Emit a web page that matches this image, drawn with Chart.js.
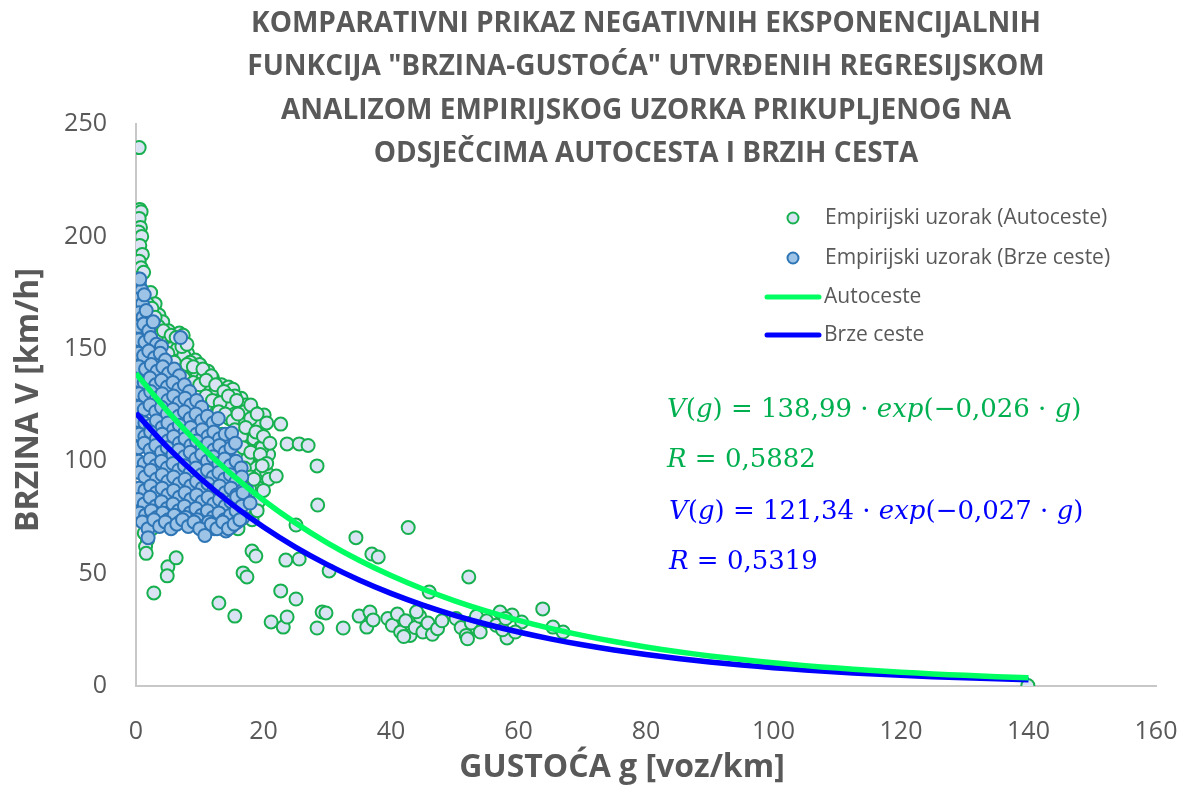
<!DOCTYPE html>
<html>
<head>
<meta charset="utf-8">
<script src="https://cdn.jsdelivr.net/npm/chart.js@4.4.0/dist/chart.umd.min.js"></script>
<style>
  body { margin: 0; background: #fff; }
  canvas { display: block; }
</style>
</head>
<body>
<canvas id="myChart" width="1182" height="787"></canvas>
<script>
// empirijski uzorak - autoceste [gustoca, brzina]
const autocesteSample = [
  [0.5,239.5],[0.6,212],[0.8,211],[0.5,208],[0.7,204],[0.4,202],[0.9,200],[0.6,196],[1.0,192],[0.5,189],
  [0.8,186],[1.2,184],[0.4,181],[0.7,177],[1.0,172],[1.6,172],[0.6,168],[1.3,165],[0.5,160],[1.1,158],
  [0.3,150],[0.8,146],[0.4,138],
  [2.3,175],[3.0,170],[2.0,167],[3.6,165],[4.2,162],[2.8,160],[5.1,158],[6.8,157],[7.4,156],[4.8,154],
  [3.5,152],[6.0,150],[8.1,148],[9.3,145],[7.0,145],[10.0,143],[5.5,142],[8.8,140],[11.3,140],[12.0,137],
  [9.8,136],[13.4,134],[14.5,133],[11.0,132],[15.2,132],[12.7,130],[16.5,128],[14.0,127],[17.2,125],
  [15.6,124],[13.0,123],[18.5,122],[16.8,120],[20.1,120.5],[14.6,119],[17.8,117],[19.2,116],[16.0,115],
  [18.0,112],[19.5,110],[17.0,108],[18.8,105],[16.3,103],[19.9,101],[18.2,98],[17.5,95],[19.0,92],
  [16.7,90],[18.4,86],[17.2,82],[15.8,79],[18.0,77],[16.4,74],[14.8,72],[12.6,71],[10.2,73],[8.0,72],
  [6.2,74],[4.5,73],[3.0,75],[2.5,70],[1.8,65],[1.5,62],[1.6,59],[1.3,68],[2.1,78],
  [13.5,112],[12.2,118],[11.0,125],[14.2,105],[15.0,98],[13.8,90],[12.5,84],[14.9,86],[11.8,77],
  [10.5,128],[9.5,132],[8.5,138],[7.8,142],[6.5,146],[5.8,152],[4.0,157],
  [3.5,160],[4.5,156],[5.5,150],[6.5,150],[7.5,147],[8.5,144],[9.5,140],[10.5,137],[11.5,134],
  [12.5,131],[13.5,128],[14.5,125],[15.5,121],[16.5,117],[17.5,113],[18.5,110],[19.5,106],[17.8,103],
  [18.8,97],[19.6,95],[17.8,90],[19.0,85],[18.6,80],[17.5,76],[19.3,88],[20.5,95],[20.8,103],[19.8,106],
  [1.8,170],[2.5,168],[2.2,163],[3.0,164],[2.5,157],[3.3,156],[4.3,158],[5.5,156],[6.3,155],
  [4.0,150],[5.0,148],[7.2,151],[8.0,152],[6.0,144],[7.0,140],[8.0,143],[9.0,142],[10.5,141],[11.8,138],
  [7.5,137],[9.0,135],[10.0,134],[11.0,136],[12.5,134],[13.8,131],[15.5,129],
  [9.5,126],[11.0,129],[12.0,127],[13.2,126],[14.5,129],[15.8,127],[17.0,122],[18.0,125],
  [13.0,122],[14.0,121],[15.2,118],[16.0,121],[18.0,119],[19.0,121],[20.5,117],
  [15.5,114],[16.5,111],[17.2,115],[18.8,113],[20.0,111],[21.0,108],
  [16.8,106],[17.5,101],[18.0,104],[19.5,103],[20.5,99],[17.0,97],[18.0,93],[19.8,98],[20.8,92],
  [17.8,88],[18.5,92],[19.2,82],[20.0,87],[17.0,79],[18.2,74],[19.0,78],[16.0,70],
  [22.7,116.5],[23.7,107.7],[25.6,107.7],[27.0,107],[28.4,97.9],[22.0,93.4],[28.5,80.5],[25.1,71.6],
  [34.5,66],[42.7,70.5],[37.0,58.7],[38.0,57.4],[18.2,60],[18.8,57.8],[23.5,56],[25.6,56.5],[16.8,50.3],
  [17.4,48.5],[30.3,51.2],[46.0,41.8],[22.7,42.3],[25.1,38.7],[13.0,36.9],[15.5,31.1],[21.2,28.5],
  [23.1,26.2],[23.7,30.7],[28.4,25.8],[29.2,32.9],[29.8,32.5],[32.5,25.8],[35.0,31.1],[36.7,32.9],
  [36.2,26.2],[37.2,29.4],[52.2,48.5],[63.8,34.3],[57.1,32.9],[59.0,31.6],[60.5,28.5],[58.2,21.4],
  [65.4,26.2],[67.0,24.0],[5.0,53],[4.9,49],[6.3,57],[2.8,41.4],[139.9,0.2],
  [39.5,30],[40.2,27],[41.0,32],[41.5,24],[42.3,29],[43.0,22.5],[43.8,26],[44.5,31],[45.0,24],[45.8,28],
  [46.5,23],[47.3,25.5],[48.0,29],[44.0,33],[42.0,22],
  [50.2,30],[51.0,26],[51.8,22.5],[52.6,28],[53.4,31],[54.0,24],[52.0,21],[55.0,29],
  [56.5,27],[57.5,25],[59.5,24],[58.0,30]
];

// empirijski uzorak - brze ceste [gustoca, brzina]
const brzeSample = [
  [0.5,179],[0.9,176],[0.6,181],
  [0.4,172],[1.0,170],[1.3,174],
  [0.5,166],[1.1,164],[1.6,167],
  [0.4,160],[1.2,161],[2.0,158],[2.7,162],
  [0.5,154],[1.4,153],[2.3,155],[3.2,152],[4.0,151],[7.0,155],
  [0.4,148],[1.2,147],[2.0,149],[2.9,146],[3.8,148],[4.6,145],
  [0.5,142],[1.5,141],[2.4,143],[3.3,140],[4.2,142],[5.1,139],[6.0,141],[6.8,138],
  [0.4,136],[1.3,135],[2.2,137],[3.1,134],[4.0,136],[4.9,133],[5.8,135],[6.7,132],[7.6,134],[8.4,131],
  [0.5,130],[1.4,129],[2.3,131],[3.2,128],[4.1,130],[5.0,127],[5.9,129],[6.8,126],[7.7,128],[8.6,125],
  [9.5,127],[10.3,124],
  [0.4,124],[1.3,123],[2.2,125],[3.1,122],[4.0,124],[4.9,121],[5.8,123],[6.7,120],[7.6,122],[8.5,119],
  [9.4,121],[10.3,118],[11.2,120],[12.1,117],[12.9,119],
  [0.5,118],[1.4,117],[2.3,116],[3.2,118],[4.1,115],[5.0,117],[5.9,114],[6.8,116],[7.7,113],[8.6,115],
  [9.5,112],[10.4,114],[11.3,111],[12.2,113],[13.1,110],[14.0,112],[15.0,112.5],
  [0.5,112],[1.4,111],[2.3,113],[3.2,110],[4.1,112],[5.0,109],[5.9,111],[6.8,108],[7.7,110],[8.6,107],
  [9.5,109],[10.4,106],[11.3,108],[12.2,105],[13.1,107],[14.0,104],[14.9,106],[15.6,108],
  [0.4,106],[1.3,108],[2.2,105],[3.1,107],[4.0,104],[4.9,106],[5.8,103],[6.7,105],[7.6,102],[8.5,104],
  [9.4,101],[10.3,103],[11.2,100],[12.1,102],[13.0,99],[13.9,101],[14.8,98],[15.7,100],[16.5,97],
  [0.4,100],[1.3,99],[2.2,101],[3.1,98],[4.0,100],[4.9,97],[5.8,99],[6.7,96],[7.6,98],[8.5,95],
  [9.4,97],[10.3,94],[11.2,96],[12.1,93],[13.0,95],[13.9,92],[14.8,94],[15.7,91],[16.6,93],
  [0.5,95],[1.4,93],[2.3,96],[3.2,92],[4.1,94],[5.0,91],[5.9,93],[6.8,90],[7.7,92],[8.6,89],
  [9.5,91],[10.4,88],[11.3,90],[12.2,87],[13.1,89],[14.0,86],[14.9,88],[15.8,85],[16.7,87],[17.4,87],
  [0.5,88],[1.4,87],[2.3,89],[3.2,86],[4.1,88],[5.0,85],[5.9,87],[6.8,84],[7.7,86],[8.6,83],
  [9.5,85],[10.4,82],[11.3,84],[12.2,81],[13.1,83],[14.0,80],[14.9,82],[15.8,84],[16.8,86],
  [0.4,83],[1.3,81],[2.2,84],[3.1,80],[4.0,82],[4.9,79],[5.8,81],[6.7,78],[7.6,80],[8.5,77],
  [9.4,79],[10.3,76],[11.2,78],[12.1,75],[13.0,77],[13.9,74],[14.8,76],[15.7,78],[16.6,80],[17.9,81.4],
  [0.6,77],[1.5,76],[2.4,78],[3.3,75],[4.2,77],[5.1,74],[6.0,76],[6.9,73],[7.8,75],[8.7,72],
  [9.6,74],[10.5,71],[11.4,73],[12.3,70],[13.2,72],[14.1,69],[15.0,71],[15.9,73],[16.8,75],
  [1.0,73],[1.9,70],[2.8,74],[3.7,71],[4.6,73],[5.5,70],[6.4,72],[7.3,74],[8.2,71],[9.1,73],
  [10.0,70],[10.8,67],[11.8,72],[12.7,70],[13.6,73],[14.5,70],[15.4,72],[16.3,74],[1.9,66]
];

// regresijske krivulje ocitane s grafa
const fitG = [0,5,10,15,20,25,30,35,40,45,50,55,60,65,70,75,80,85,90,95,100,105,110,115,120,125,130,135,140];
const autocesteFit = [138.99,122.05,107.17,94.11,82.63,72.56,63.71,55.95,49.13,43.14,37.88,33.26,29.21,25.65,
  22.52,19.77,17.36,15.25,13.39,11.76,10.32,9.06,7.96,6.99,6.14,5.39,4.73,4.16,3.65];
const brzeFit = [121.34,106.02,92.63,80.93,70.71,61.78,53.98,47.16,41.21,36.00,31.46,27.48,24.01,20.98,
  18.33,16.02,13.99,12.23,10.68,9.33,8.16,7.13,6.23,5.44,4.75,4.15,3.63,3.17,2.77];

const xTicks = [0,20,40,60,80,100,120,140,160];
const yTicks = [0,50,100,150,200,250];

const titleLines = [
  'KOMPARATIVNI PRIKAZ NEGATIVNIH EKSPONENCIJALNIH',
  'FUNKCIJA "BRZINA-GUSTOĆA" UTVRĐENIH REGRESIJSKOM',
  'ANALIZOM EMPIRIJSKOG UZORKA PRIKUPLJENOG NA',
  'ODSJEČCIMA AUTOCESTA I BRZIH CESTA'
];
const legendLabels = ['Empirijski uzorak (Autoceste)', 'Empirijski uzorak (Brze ceste)', 'Autoceste', 'Brze ceste'];
const xTitle = 'GUSTOĆA g [voz/km]';
const yTitle = 'BRZINA V [km/h]';

const GRAY = '#595959';
const GREEN_EDGE = '#17B04F';
const GREEN_FILL = '#DAE3F3';
const BLUE_EDGE = '#2E75B6';
const BLUE_FILL = '#9DC3E6';
const GREEN_LINE = '#00FF60';
const BLUE_LINE = '#0000FF';

function toPts(pairs) {
  return pairs.map(p => ({x: p[0], y: p[1]}));
}

function fitPts(ys) {
  return fitG.map((g, i) => ({x: g, y: ys[i]}));
}

function drawRuns(ctx, runs, x, y, size, color) {
  let cx = x;
  ctx.fillStyle = color;
  ctx.textAlign = 'left';
  ctx.textBaseline = 'middle';
  runs.forEach(r => {
    ctx.font = (r[1] ? 'italic ' : '') + size + 'px "DejaVu Serif"';
    ctx.fillText(r[0], cx, y);
    cx += ctx.measureText(r[0]).width;
  });
}

const textPlugin = {
  id: 'texts',
  afterDraw(chart) {
    const ctx = chart.ctx;
    const area = chart.chartArea;
    ctx.save();

    // naslov
    ctx.fillStyle = GRAY;
    ctx.textAlign = 'center';
    ctx.textBaseline = 'middle';
    ctx.font = 'bold 28px "Open Sans"';
    const cx = (area.left + area.right) / 2;
    titleLines.forEach((t, i) => ctx.fillText(t, cx, 24 + i * 43.5));

    // naslovi osi
    ctx.font = 'bold 32px "Open Sans"';
    ctx.fillText(xTitle, 622, 768);
    ctx.save();
    ctx.translate(29, 400);
    ctx.rotate(-Math.PI / 2);
    ctx.font = 'bold 32px "Open Sans"';
    ctx.fillText(yTitle, 0, 0);
    ctx.restore();

    // legenda
    ctx.font = '21px "Open Sans"';
    ctx.textAlign = 'left';
    const ly = [218, 258, 297, 335];
    ctx.lineWidth = 2;
    ctx.beginPath();
    ctx.arc(793, ly[0], 5.5, 0, Math.PI * 2);
    ctx.fillStyle = GREEN_FILL; ctx.fill();
    ctx.strokeStyle = GREEN_EDGE; ctx.stroke();
    ctx.beginPath();
    ctx.arc(793, ly[1], 5.5, 0, Math.PI * 2);
    ctx.fillStyle = BLUE_FILL; ctx.fill();
    ctx.strokeStyle = BLUE_EDGE; ctx.stroke();
    ctx.lineWidth = 5;
    ctx.lineCap = 'round';
    ctx.strokeStyle = GREEN_LINE;
    ctx.beginPath(); ctx.moveTo(767, ly[2]); ctx.lineTo(819, ly[2]); ctx.stroke();
    ctx.strokeStyle = BLUE_LINE;
    ctx.beginPath(); ctx.moveTo(767, ly[3]); ctx.lineTo(819, ly[3]); ctx.stroke();
    ctx.fillStyle = GRAY;
    ctx.fillText(legendLabels[0], 825, ly[0]);
    ctx.fillText(legendLabels[1], 825, ly[1]);
    ctx.fillText(legendLabels[2], 824, ly[2]);
    ctx.fillText(legendLabels[3], 824, ly[3]);

    // jednadzbe
    drawRuns(ctx, [['V',1],['(',0],['g',1],[') = 138,99 · ',0],['exp',1],['(−0,026 · ',0],['g',1],[')',0]], 667, 410, 26, '#00B050');
    drawRuns(ctx, [['R',1],[' = 0,5882',0]], 667, 460, 26, '#00B050');
    drawRuns(ctx, [['V',1],['(',0],['g',1],[') = 121,34 · ',0],['exp',1],['(−0,027 · ',0],['g',1],[')',0]], 669, 512, 26, BLUE_LINE);
    drawRuns(ctx, [['R',1],[' = 0,5319',0]], 669, 562, 26, BLUE_LINE);

    ctx.restore();
  }
};

new Chart('myChart', {
  type: 'scatter',
  data: {
    datasets: [
      {
        label: legendLabels[2],
        data: fitPts(autocesteFit),
        showLine: true,
        borderColor: GREEN_LINE,
        borderWidth: 5.5,
        pointRadius: 0,
        tension: 0.3,
        order: 0
      },
      {
        label: legendLabels[3],
        data: fitPts(brzeFit),
        showLine: true,
        borderColor: BLUE_LINE,
        borderWidth: 5.5,
        pointRadius: 0,
        tension: 0.3,
        order: 0
      },
      {
        label: legendLabels[1],
        data: toPts(brzeSample),
        backgroundColor: BLUE_FILL,
        borderColor: BLUE_EDGE,
        borderWidth: 2,
        pointRadius: 6.5,
        order: 1
      },
      {
        label: legendLabels[0],
        data: toPts(autocesteSample),
        backgroundColor: GREEN_FILL,
        borderColor: GREEN_EDGE,
        borderWidth: 2,
        pointRadius: 6.5,
        order: 2
      }
    ]
  },
  options: {
    responsive: false,
    animation: false,
    layout: { padding: { top: 124, right: 26, left: 0, bottom: 0 } },
    plugins: {
      legend: { display: false },
      tooltip: { enabled: false },
      title: { display: false }
    },
    scales: {
      x: {
        type: 'linear',
        min: xTicks[0],
        max: xTicks[xTicks.length - 1],
        afterFit: s => { s.height = 101; s.paddingLeft = 0; s.paddingRight = 0; },
        afterBuildTicks: s => { s.ticks = xTicks.map(v => ({value: v})); },
        grid: { drawOnChartArea: false, drawTicks: false },
        border: { color: '#C8C8C8', width: 2 },
        ticks: { color: GRAY, font: { family: 'Open Sans', size: 25 }, padding: 31 }
      },
      y: {
        type: 'linear',
        min: yTicks[0],
        max: yTicks[yTicks.length - 1],
        afterFit: s => { s.width = 136; s.paddingTop = 0; s.paddingBottom = 0; },
        afterBuildTicks: s => { s.ticks = yTicks.map(v => ({value: v})); },
        grid: { drawOnChartArea: false, drawTicks: false },
        border: { color: '#C8C8C8', width: 2 },
        ticks: { color: GRAY, font: { family: 'Open Sans', size: 25 }, padding: 29 }
      }
    }
  },
  plugins: [textPlugin]
});
</script>
</body>
</html>
